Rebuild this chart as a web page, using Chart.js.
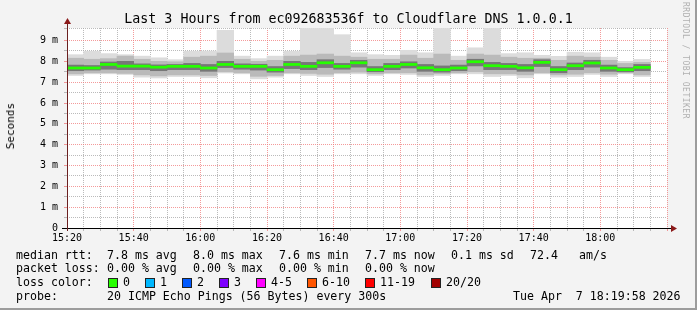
<!DOCTYPE html>
<html>
<head>
<meta charset="utf-8">
<script src="https://cdn.jsdelivr.net/npm/chart.js@4/dist/chart.umd.min.js"></script>
<style>
  html, body { margin: 0; padding: 0; background: #f3f3f3; }
  #frame {
    position: relative; width: 697px; height: 310px; box-sizing: border-box;
    border-right: 2px solid #9c9c9c; border-bottom: 2px solid #9c9c9c;
    font-family: "DejaVu Sans Mono", monospace; color: #000; overflow: hidden;
  }
  canvas { position: absolute; left: 0; top: 0; }
  .txt { position: absolute; white-space: pre; font-size: 11.6px; line-height: 14px; }
  .box { position: absolute; width: 8px; height: 8px; border: 1px solid #222; }
  #title { position: absolute; left: 0; width: 697px; top: 10px; text-align: center; font-size: 13.3px; line-height: 18px; }
  #ylab { position: absolute; left: 4px; top: 103px; font-size: 11px; line-height: 14px; color: #000; writing-mode: vertical-rl; transform: rotate(180deg); }
  #tag { position: absolute; left: 681px; top: 2px; font-size: 8px; color: #b0b0b0; writing-mode: vertical-rl; letter-spacing: 0.5px; }
</style>
</head>
<body>
<div id="frame">
  <canvas id="chart" width="697" height="310"></canvas>
  <div id="title">Last 3 Hours from ec092683536f to Cloudflare DNS 1.0.0.1</div>
  <div id="ylab">Seconds</div>
  <div id="tag">RRDTOOL / TOBI OETIKER</div>
  <div id="legend"></div>
</div>
<script>
// time labels every 20 minutes, starting 15:20
const timeLabels = ['15:20', '15:40', '16:00', '16:20', '16:40', '17:00', '17:20', '17:40', '18:00'];

// one column per 5 minute step (values in ms)
const medianRtt = [7.68, 7.68, 7.85, 7.77, 7.77, 7.72, 7.76, 7.76, 7.68, 7.85, 7.76, 7.76, 7.60, 7.85, 7.76, 7.93, 7.76, 7.93,
  7.60, 7.76, 7.85, 7.69, 7.60, 7.68, 7.98, 7.79, 7.76, 7.69, 7.95, 7.60, 7.79, 7.92, 7.68, 7.60, 7.71];
const maxRtt = [8.32, 8.48, 8.37, 8.32, 8.25, 8.17, 8.08, 8.48, 8.49, 9.49, 8.25, 8.13, 8.25, 8.48, 9.58, 9.58, 9.28, 8.41,
  8.32, 8.29, 8.53, 8.41, 9.58, 8.25, 8.65, 9.58, 8.37, 8.41, 8.29, 8.24, 8.44, 8.41, 8.20, 8.00, 8.09];
const minRtt = [7.32, 7.40, 7.40, 7.37, 7.24, 7.20, 7.27, 7.27, 7.21, 7.44, 7.40, 7.16, 7.24, 7.40, 7.32, 7.27, 7.40, 7.40,
  7.32, 7.40, 7.37, 7.27, 7.32, 7.40, 7.40, 7.27, 7.32, 7.21, 7.40, 7.24, 7.27, 7.37, 7.27, 7.40, 7.27];
const highMid = [8.15, 8.10, 8.13, 8.25, 8.10, 8.00, 7.98, 8.20, 8.25, 8.40, 8.10, 8.00, 8.05, 8.25, 8.30, 8.35, 8.25, 8.20,
  8.10, 8.10, 8.30, 8.15, 8.35, 8.05, 8.35, 8.30, 8.20, 8.15, 8.15, 8.05, 8.25, 8.20, 8.05, 7.90, 7.95];
const lowMid = [7.40, 7.45, 7.45, 7.42, 7.35, 7.30, 7.35, 7.35, 7.32, 7.50, 7.45, 7.28, 7.32, 7.45, 7.42, 7.38, 7.45, 7.48,
  7.40, 7.45, 7.45, 7.35, 7.40, 7.45, 7.50, 7.40, 7.40, 7.35, 7.45, 7.35, 7.38, 7.45, 7.38, 7.45, 7.35];
const highCore = [7.82, 7.80, 7.97, 8.00, 7.88, 7.83, 7.85, 7.90, 7.85, 8.00, 7.88, 7.86, 7.75, 8.00, 7.95, 8.08, 7.90, 8.05,
  7.75, 7.90, 7.98, 7.85, 7.78, 7.82, 8.10, 7.95, 7.90, 7.85, 8.08, 7.75, 7.92, 8.05, 7.82, 7.70, 7.85];
const lowCore = [7.55, 7.58, 7.62, 7.60, 7.60, 7.55, 7.60, 7.60, 7.52, 7.70, 7.62, 7.58, 7.48, 7.65, 7.60, 7.70, 7.62, 7.72,
  7.50, 7.60, 7.68, 7.52, 7.48, 7.55, 7.78, 7.60, 7.60, 7.52, 7.75, 7.45, 7.60, 7.72, 7.52, 7.50, 7.55];

const lossColors = ['#26ff00', '#00b8ff', '#0059ff', '#7e00ff', '#ff00ff', '#ff5500', '#ff0000', '#a10000'];
const lossNames = ['0', '1', '2', '3', '4-5', '6-10', '11-19', '20/20'];

const STEP = 5; // minutes per column
const MEDIAN_HALF = 0.05;

function band(lo, hi) {
  return lo.map((v, i) => ({ x: i * STEP + STEP / 2, y: [v, hi[i]] }));
}
const medianBand = medianRtt.map((v, i) => ({ x: i * STEP + STEP / 2, y: [v - MEDIAN_HALF, v + MEDIAN_HALF] }));

const barStyle = { categoryPercentage: 1, barPercentage: 1, borderWidth: 0, grouped: false };

// background + axes with arrows, like rrdtool
const rrdFrame = {
  id: 'rrdFrame',
  beforeDraw(chart) {
    const { ctx, chartArea: a } = chart;
    ctx.save();
    ctx.fillStyle = '#f3f3f3';
    ctx.fillRect(0, 0, chart.width, chart.height);
    ctx.fillStyle = '#ffffff';
    ctx.fillRect(a.left, a.top, a.right - a.left, a.bottom - a.top);
    ctx.restore();
  },
  afterDatasetsDraw(chart) {
    const { ctx, chartArea: a } = chart;
    ctx.save();
    ctx.lineWidth = 1;
    ctx.strokeStyle = '#000';
    ctx.beginPath();
    ctx.moveTo(a.left - 5, a.bottom + 0.5);
    ctx.lineTo(a.right + 5, a.bottom + 0.5);
    ctx.stroke();
    ctx.strokeStyle = '#6b2020';
    ctx.beginPath();
    ctx.moveTo(a.left + 0.5, a.bottom + 3);
    ctx.lineTo(a.left + 0.5, a.top - 6);
    ctx.stroke();
    ctx.fillStyle = '#8b1a1a';
    ctx.beginPath();
    ctx.moveTo(a.left - 3, a.top - 4);
    ctx.lineTo(a.left + 4, a.top - 4);
    ctx.lineTo(a.left + 0.5, a.top - 10);
    ctx.closePath();
    ctx.fill();
    ctx.beginPath();
    ctx.moveTo(a.right + 4, a.bottom - 3);
    ctx.lineTo(a.right + 4, a.bottom + 4);
    ctx.lineTo(a.right + 10, a.bottom + 0.5);
    ctx.closePath();
    ctx.fill();
    ctx.restore();
  }
};

new Chart(document.getElementById('chart'), {
  type: 'bar',
  data: {
    datasets: [
      { data: medianBand, backgroundColor: lossColors[0], order: 1, ...barStyle },
      { data: band(lowCore, highCore), backgroundColor: '#777777', order: 2, ...barStyle },
      { data: band(lowMid, highMid), backgroundColor: '#bababa', order: 3, ...barStyle },
      { data: band(minRtt, maxRtt), backgroundColor: '#dcdcdc', order: 4, ...barStyle },
    ],
  },
  options: {
    responsive: false,
    animation: false,
    layout: { padding: { left: 0, right: 30, top: 28, bottom: 62 } },
    plugins: { legend: { display: false }, title: { display: false }, tooltip: { enabled: false } },
    scales: {
      x: {
        type: 'linear',
        min: 0,
        max: 180,
        offset: false,
        afterFit: (s) => { s.height = 20; },
        border: { display: false, dash: [1, 1] },
        grid: {
          offset: false,
          tickLength: 3,
          color: (c) => (c.tick.value % 20 === 0 ? 'rgba(240,120,120,0.75)' : 'rgba(170,170,170,0.8)'),
        },
        ticks: {
          stepSize: 5,
          autoSkip: false,
          maxRotation: 0,
          padding: 1,
          color: '#000',
          font: { family: 'DejaVu Sans Mono', size: 10 },
          callback: (v) => (v % 20 === 0 && timeLabels[v / 20] ? timeLabels[v / 20] : ''),
        },
      },
      y: {
        min: 0,
        max: 9.6,
        afterFit: (s) => { s.width = 67; },
        border: { display: false, dash: [1, 1] },
        grid: {
          tickLength: 3,
          color: (c) => (c.tick.value % 1 === 0 ? 'rgba(240,120,120,0.75)' : 'rgba(170,170,170,0.8)'),
        },
        ticks: {
          stepSize: 0.5,
          autoSkip: false,
          padding: 6,
          color: '#000',
          font: { family: 'DejaVu Sans Mono', size: 10 },
          callback: (v) => (v % 1 !== 0 ? '' : v === 0 ? '0' : v + ' m'),
        },
      },
    },
  },
  plugins: [rrdFrame],
});

// legend block below the plot
const legendItems = [
  [248, 16, 'median rtt:'], [248, 107, '7.8 ms avg'], [248, 193, '8.0 ms max'], [248, 279, '7.6 ms min'],
  [248, 365, '7.7 ms now'], [248, 451, '0.1 ms sd'], [248, 530, '72.4'], [248, 579, 'am/s'],
  [261, 16, 'packet loss:'], [261, 107, '0.00 % avg'], [261, 193, '0.00 % max'], [261, 279, '0.00 % min'],
  [261, 365, '0.00 % now'],
  [275, 16, 'loss color:'],
  [289, 16, 'probe:'], [289, 107, '20 ICMP Echo Pings (56 Bytes) every 300s'], [289, 513, 'Tue Apr  7 18:19:58 2026'],
];
const boxX = [108, 145, 182, 219, 256, 307, 365, 431];
const legend = document.getElementById('legend');
legendItems.forEach(([top, left, text]) => {
  const d = document.createElement('div');
  d.className = 'txt';
  d.style.top = top + 'px';
  d.style.left = left + 'px';
  d.textContent = text;
  legend.appendChild(d);
});
lossNames.forEach((name, i) => {
  const b = document.createElement('div');
  b.className = 'box';
  b.style.left = boxX[i] + 'px';
  b.style.top = '278px';
  b.style.background = lossColors[i];
  legend.appendChild(b);
  const t = document.createElement('div');
  t.className = 'txt';
  t.style.top = '275px';
  t.style.left = (boxX[i] + 15) + 'px';
  t.textContent = name;
  legend.appendChild(t);
});
</script>
</body>
</html>
